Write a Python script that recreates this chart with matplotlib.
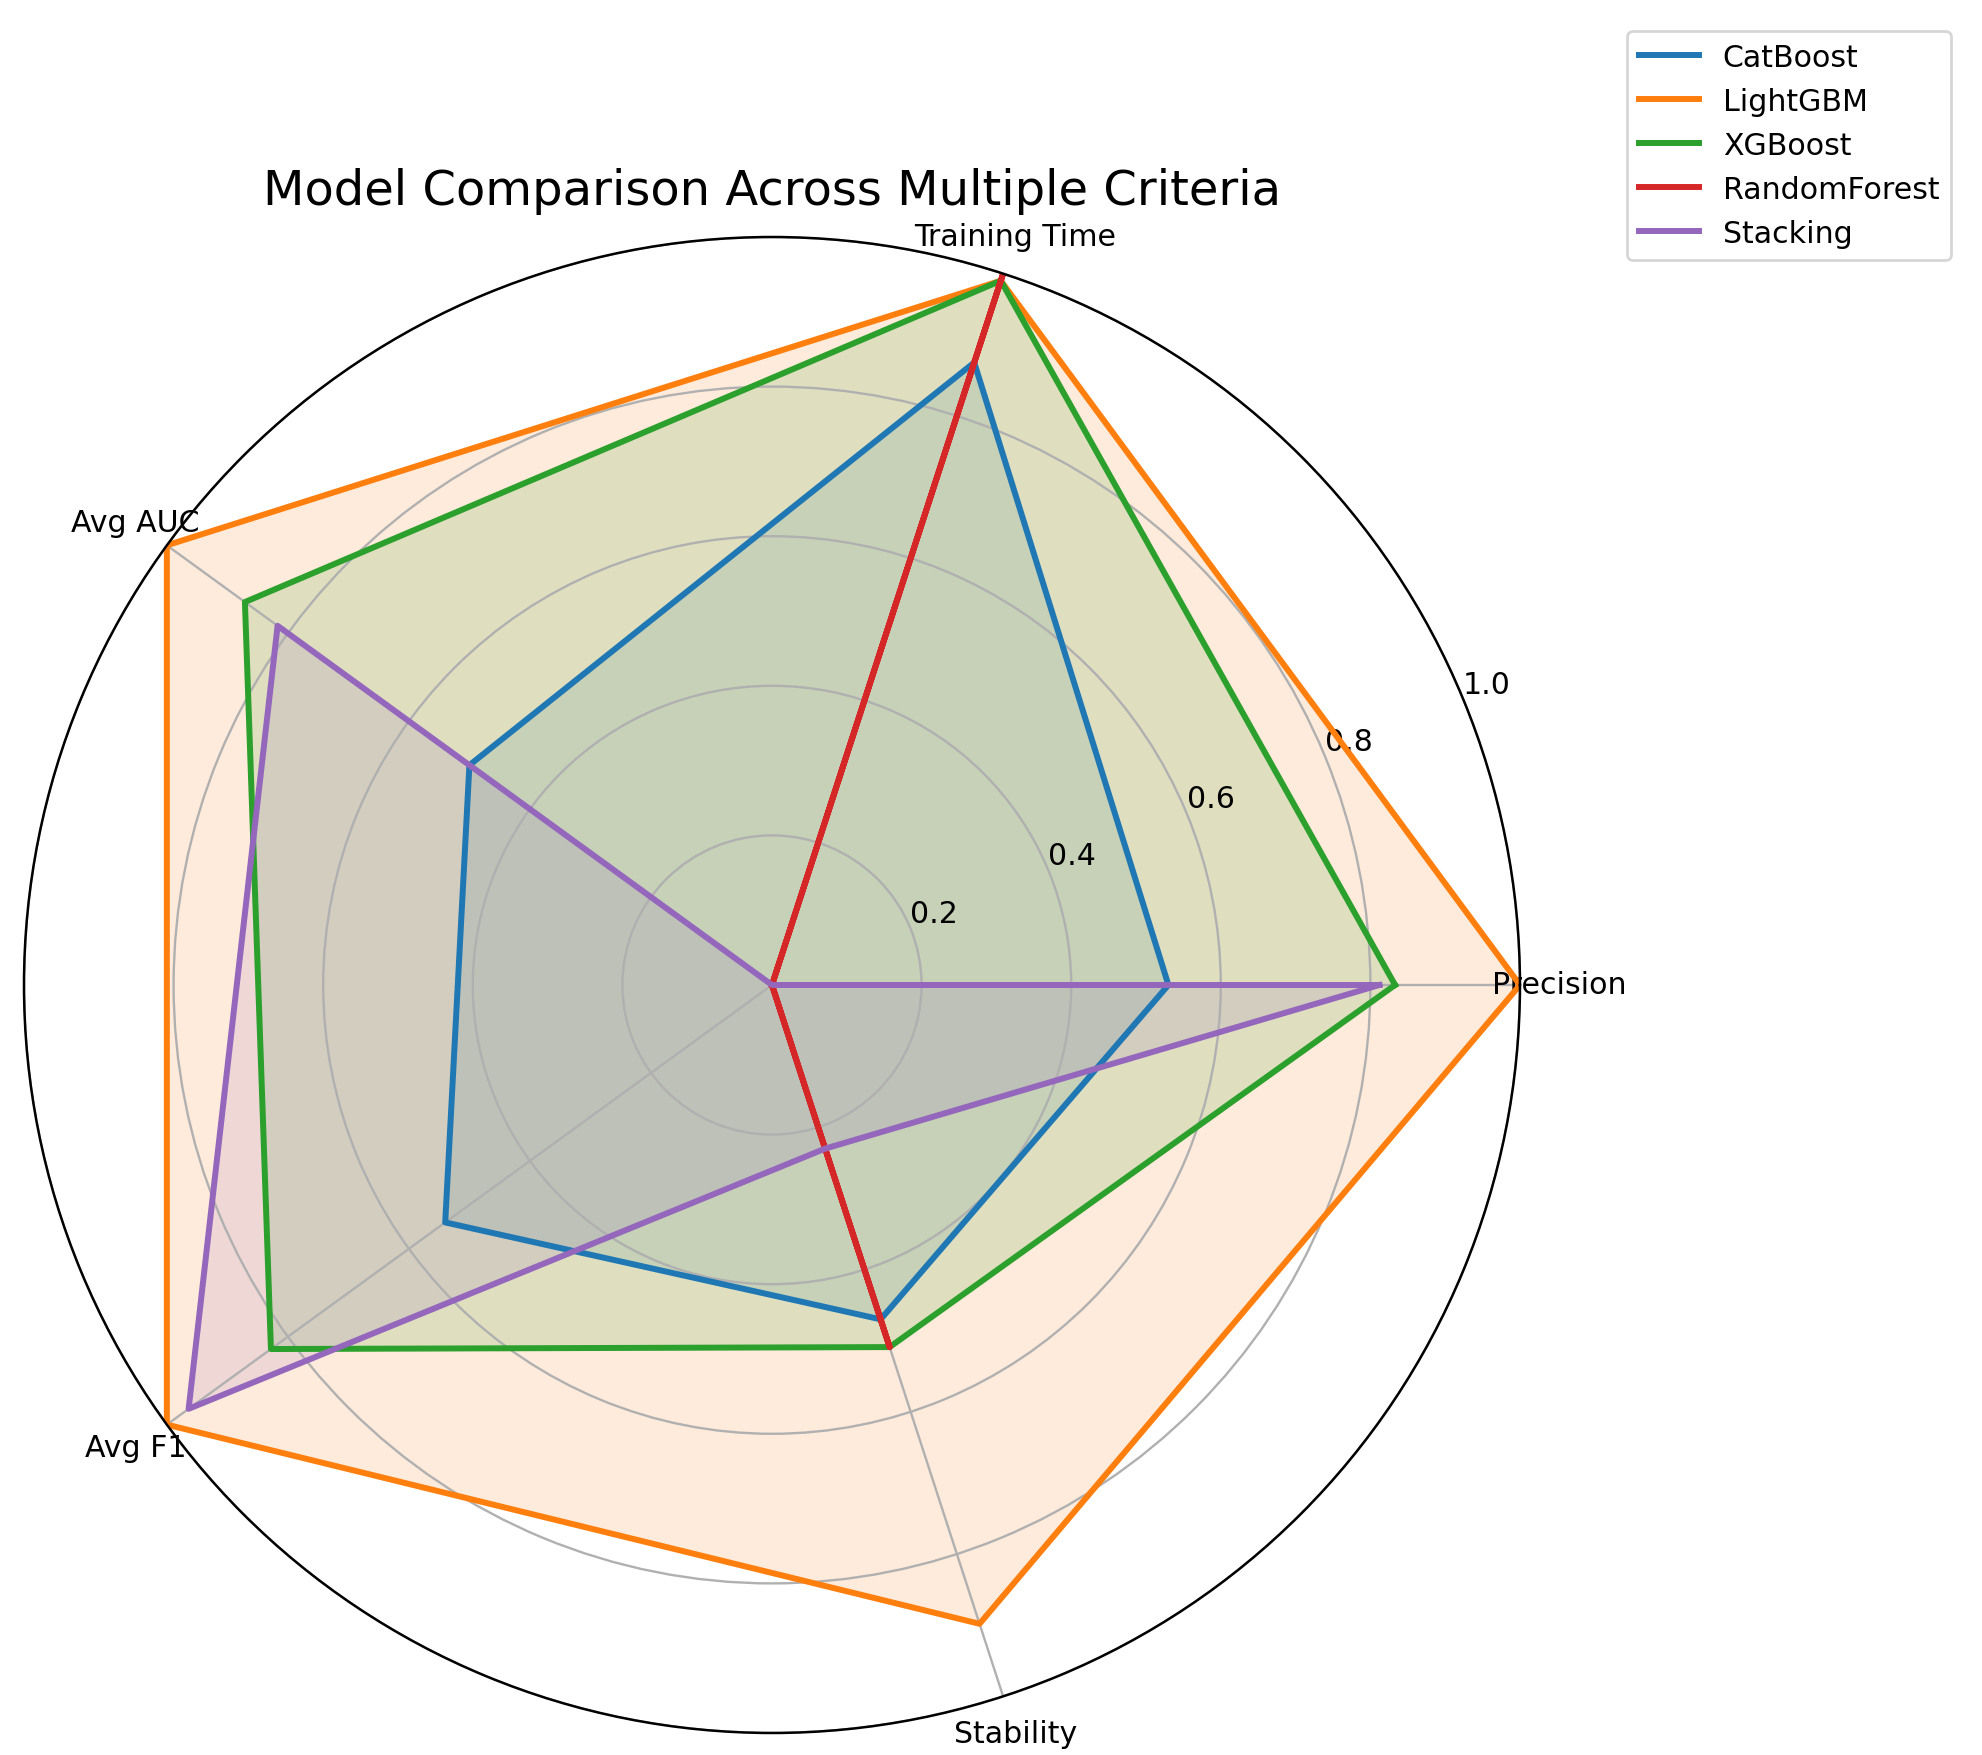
import numpy as np
import matplotlib
matplotlib.use("Agg")
import matplotlib.pyplot as plt

# criteria shown on the radar
categories = ['Precision', 'Training Time', 'Avg AUC', 'Avg F1', 'Stability']

# normalised scores
catboost = [0.53, 0.875, 0.50, 0.54, 0.47]
lightgbm = [1.0, 0.99, 1.0, 1.0, 0.898]
xgboost = [0.833, 0.99, 0.871, 0.828, 0.509]
randomforest = [0.0, 1.0, 0.0, 0.0, 0.509]
stacking = [0.812, 0.0, 0.817, 0.964, 0.230]

model_names = ['CatBoost', 'LightGBM', 'XGBoost', 'RandomForest', 'Stacking']
model_scores = [catboost, lightgbm, xgboost, randomforest, stacking]

plt.rcParams['font.size'] = 10.8
plt.rcParams['grid.linewidth'] = 0.85

angles = np.linspace(0, 2 * np.pi, len(categories), endpoint=False).tolist()
angles += angles[:1]

fig = plt.figure(figsize=(9.915, 8.78), dpi=200)
ax = fig.add_axes([0.0121, 0.0125, 0.7544, 0.852], polar=True)

for name, scores in zip(model_names, model_scores):
    vals = list(scores) + scores[:1]
    ax.plot(angles, vals, linewidth=2.15, label=name)
    ax.fill(angles, vals, alpha=0.15)

ax.set_xticks(angles[:-1])
ax.set_xticklabels(categories)
ax.set_ylim(0, 1)
ax.set_yticks([0.2, 0.4, 0.6, 0.8, 1.0])
ax.spines['polar'].set_linewidth(0.9)
ax.set_title('Model Comparison Across Multiple Criteria', size=17.3, pad=12)
ax.legend(loc='upper right', bbox_to_anchor=(0.984, 0.982),
          bbox_transform=fig.transFigure, borderaxespad=0)

plt.savefig('out.png', dpi=200)
